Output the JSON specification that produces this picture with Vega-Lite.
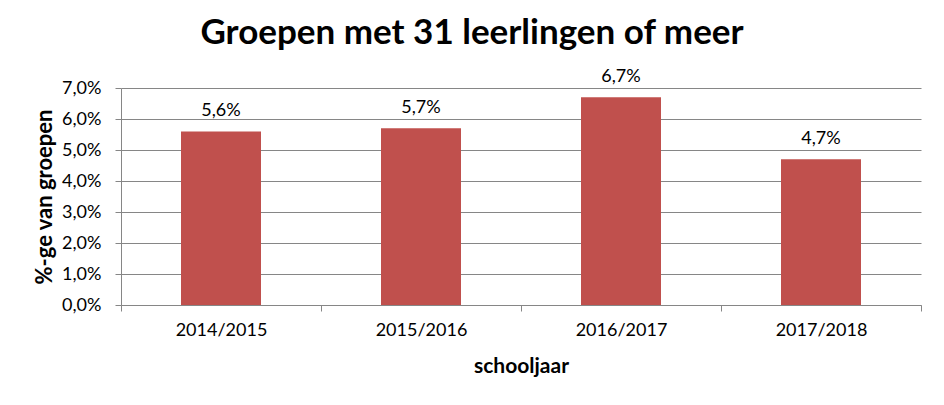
{
  "$schema": "https://vega.github.io/schema/vega-lite/v6.json",
  "autosize": {"type": "none"},
  "width": 800,
  "height": 217,
  "padding": {"left": 121, "top": 88, "right": 23, "bottom": 100},
  "background": "white",
  "config": {
    "locale": {"number": {"decimal": ",", "thousands": ".", "grouping": [3], "currency": ["€", ""]}},
    "view": {"stroke": null},
    "font": "Lato"
  },
  "title": {
    "text": "Groepen met 31 leerlingen of meer",
    "font": "Lato",
    "fontSize": 35,
    "fontWeight": "bold",
    "color": "black",
    "anchor": "middle",
    "frame": "group",
    "baseline": "alphabetic",
    "offset": 40,
    "dx": -49,
    "dy": 51
  },
  "data": {
    "values": [
      {"schooljaar": "2014/2015", "pct": 0.056},
      {"schooljaar": "2015/2016", "pct": 0.057},
      {"schooljaar": "2016/2017", "pct": 0.067},
      {"schooljaar": "2017/2018", "pct": 0.047}
    ]
  },
  "encoding": {
    "x": {
      "field": "schooljaar",
      "type": "nominal",
      "scale": {"paddingInner": 0, "paddingOuter": 0},
      "axis": {
        "title": "schooljaar",
        "titleFont": "Lato",
        "titleFontSize": 21,
        "titleFontWeight": "bold",
        "titleColor": "black",
        "titleY": 67,
        "titleBaseline": "alphabetic",
        "labelAngle": 0,
        "labelFont": "Lato",
        "labelFontSize": 18,
        "labelColor": "black",
        "labelPadding": 10,
        "tickBand": "extent",
        "tickSize": 6,
        "tickColor": "#868686",
        "domainColor": "#868686",
        "grid": false
      }
    },
    "y": {
      "field": "pct",
      "type": "quantitative",
      "scale": {"domain": [0, 0.07], "nice": false},
      "axis": {
        "title": "%-ge van groepen",
        "titleFont": "Lato",
        "titleFontSize": 22,
        "titleFontWeight": "bold",
        "titleColor": "black",
        "titleX": -77,
        "titleY": 108.5,
        "titleAlign": "center",
        "titleBaseline": "middle",
        "titleAngle": 270,
        "format": ".1%",
        "values": [0, 0.01, 0.02, 0.03, 0.04, 0.05, 0.06, 0.07],
        "labelFont": "Lato",
        "labelFontSize": 18,
        "labelColor": "black",
        "labelPadding": 14,
        "tickSize": 6,
        "tickColor": "#868686",
        "domainColor": "#868686",
        "grid": true,
        "gridColor": "#868686",
        "gridOpacity": 1
      }
    }
  },
  "layer": [
    {
      "mark": {"type": "bar", "color": "#C0504D", "width": {"band": 0.4}}
    },
    {
      "mark": {"type": "text", "font": "Lato", "fontSize": 18, "color": "black", "baseline": "alphabetic", "dy": -15},
      "encoding": {
        "text": {"field": "pct", "type": "quantitative", "format": ".1%"}
      }
    }
  ]
}
